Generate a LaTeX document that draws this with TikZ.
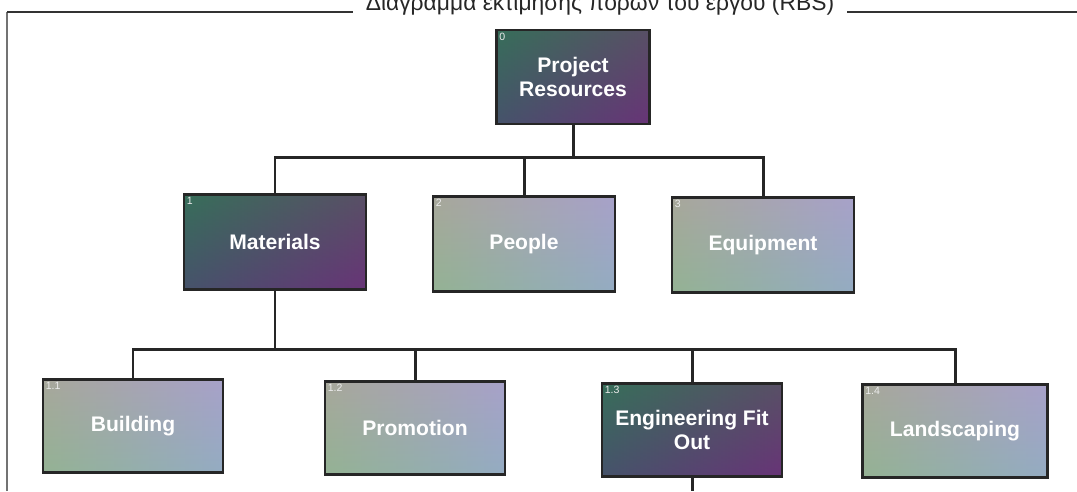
\documentclass[tikz,border=0pt]{standalone}
\usepackage{fontspec}
\setmainfont{Liberation Sans}
\usepackage{xcolor}
\definecolor{rbsteal}{rgb}{0.16,0.42,0.42}
\definecolor{rbsplum}{rgb}{0.45,0.18,0.42}
\definecolor{rbsviolet}{rgb}{0.38,0.22,0.50}
\definecolor{rbsmoss}{rgb}{0.30,0.45,0.25}
\definecolor{rbssage}{rgb}{0.58,0.70,0.58}
\definecolor{rbslilac}{rgb}{0.76,0.60,0.80}
\definecolor{rbssky}{rgb}{0.58,0.66,0.86}
\definecolor{rbsrose}{rgb}{0.80,0.58,0.66}
\usepackage{tikz}
\usetikzlibrary{positioning,calc}
\tikzset{
  box/.style={rectangle,draw=black!85,line width=1.2pt,minimum width=36.4mm,minimum height=19mm,
    text=white,font=\fontsize{12}{14}\selectfont\bfseries,align=center},
  darkbox/.style={box,left color=rbsteal,middle color=rbsplum,right color=rbsviolet,
    path picture={\shade[top color=rbsmoss,bottom color=rbsplum,opacity=0.4]
      (path picture bounding box.south west) rectangle (path picture bounding box.north east);}},
  lightbox/.style={box,left color=rbssage,middle color=rbslilac,right color=rbssky,
    path picture={\shade[top color=rbsrose,bottom color=rbssage,opacity=0.35]
      (path picture bounding box.south west) rectangle (path picture bounding box.north east);}},
  num/.style={anchor=north west,font=\fontsize{6}{6}\selectfont,text=white!85!gray,inner sep=2pt},
  link/.style={draw=black!85,line width=1.7pt},
  frame/.style={draw=black!80,line width=1.4pt}
}

\begin{document}
\begin{tikzpicture}[x=0.2mm,y=-0.2mm]
  \useasboundingbox (0,0) rectangle (1077,491);

  % Title and frame
  \node[font=\fontsize{13}{15}\selectfont,anchor=base,text=black!85] (title) at (600,10) {Διάγραμμα εκτίμησης πόρων του έργου (RBS)};
  \coordinate (tl) at (7,12);
  \coordinate (bl) at (7,491);
  \coordinate (tr) at (1077,12);
  \draw[frame,draw=black!55] (bl) -- (tl);
  \draw[frame] (tl) -- ([xshift=-4pt]title.west |- tl);
  \draw[frame] ([xshift=4pt]title.east |- tl) -- (tr);

  % Resources
  \node[darkbox,minimum width=30.6mm,minimum height=18.8mm,label={[num]north west:0}] (res) at (573,77) {Project\\Resources};

  \node[darkbox,label={[num]north west:1}] (mat) at (275,242) {Materials};
  \node[lightbox,label={[num]north west:2}] (ppl) at (524,244) {People};
  \node[lightbox,label={[num]north west:3}] (eqp) at (763,245) {Equipment};

  \node[lightbox,minimum width=36mm,minimum height=18.6mm,label={[num]north west:1.1}] (bld) at (133,426) {Building};
  \node[lightbox,minimum width=36mm,minimum height=18.6mm,label={[num]north west:1.2}] (pro) at (415,428) {Promotion};
  \node[darkbox,minimum width=36mm,minimum height=18.6mm,label={[num]north west:1.3}] (eng) at (692,430) {Engineering Fit\\Out};
  \node[lightbox,minimum width=37mm,minimum height=18.6mm,label={[num]north west:1.4}] (lnd) at (955,431) {Landscaping};

  % Tree links
  \coordinate (bus1) at (0,157);
  \coordinate (bus2) at (0,349);
  \coordinate (engout) at (692,491);
  \draw[link] (res.south) -- (res.south |- bus1);
  \draw[link] (mat.north) |- (eqp.north |- bus1) -- (eqp.north);
  \draw[link] (ppl.north) -- (ppl.north |- bus1);
  \draw[link] (mat.south) -- (mat.south |- bus2);
  \draw[link] (bld.north) |- (lnd.north |- bus2) -- (lnd.north);
  \draw[link] (pro.north) -- (pro.north |- bus2);
  \draw[link] (eng.north) -- (eng.north |- bus2);
  \draw[link] (eng.south) -- (engout);
\end{tikzpicture}
\end{document}
